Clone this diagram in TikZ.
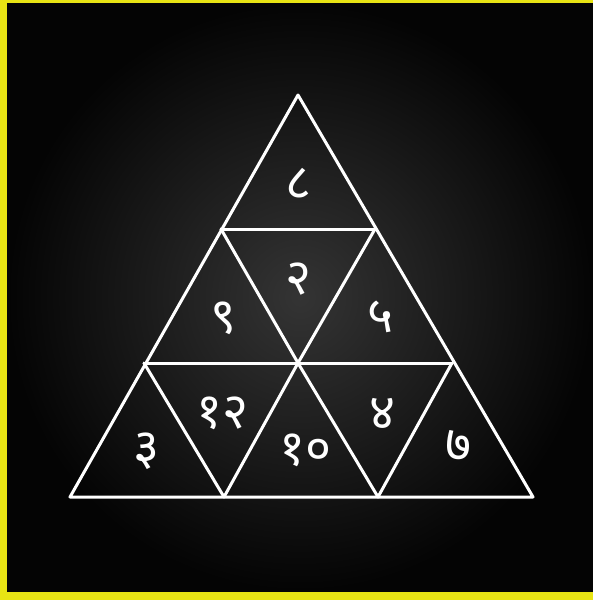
\documentclass[tikz,border=0pt]{standalone}
\usepackage{fontspec}
\newfontfamily\devfont[Script=Devanagari]{Noto Sans}
\definecolor{frameyellow}{RGB}{232,228,20}
\definecolor{bgin}{RGB}{52,52,52}
\definecolor{bgout}{RGB}{4,4,4}
\begin{document}
\begin{tikzpicture}[x=1pt,y=-1pt,
  edge/.style={draw=white,line width=3pt,line join=round,line cap=round},
  num/.style={text=white,font=\devfont\bfseries\fontsize{50}{50}\selectfont,inner sep=0pt,anchor=center}]
\useasboundingbox (0,0) rectangle (593,600);
\fill[frameyellow] (0,0) rectangle (593,600);
\shade[inner color=bgin,outer color=bgout] (7,3) rectangle (593,591);
% vertices
\coordinate (A) at (298,95);
\coordinate (L1) at (221,229);
\coordinate (R1) at (375,229);
\coordinate (L2) at (144,363);
\coordinate (M2) at (298,363);
\coordinate (R2) at (452,363);
\coordinate (B0) at (70,497);
\coordinate (B1) at (224,497);
\coordinate (B2) at (378,497);
\coordinate (B3) at (533,497);
% edges
\draw[edge] (A) -- (B0) -- (B3) -- cycle;
\draw[edge] (L1) -- (R1);
\draw[edge] (L2) -- (R2);
\draw[edge] (L1) -- (M2) -- (B2);
\draw[edge] (R1) -- (M2) -- (B1);
\draw[edge] (L2) -- (B1);
\draw[edge] (R2) -- (B2);
% numbers
\node[num] (n8) at (298,184) {८};
\node[num] (n2) at (298,279) {२};
\node[num] (n9) at (223,318) {९};
\node[num] (n5) at (380,317) {५};
\node[num] (n3) at (146,451) {३};
\node[num] (n12) at (222,413) {१२};
\node[num] (n10) at (305,450) {१०};
\node[num] (n4) at (382,414) {४};
\node[num] (n7) at (458,446) {७};
\end{tikzpicture}
\end{document}
